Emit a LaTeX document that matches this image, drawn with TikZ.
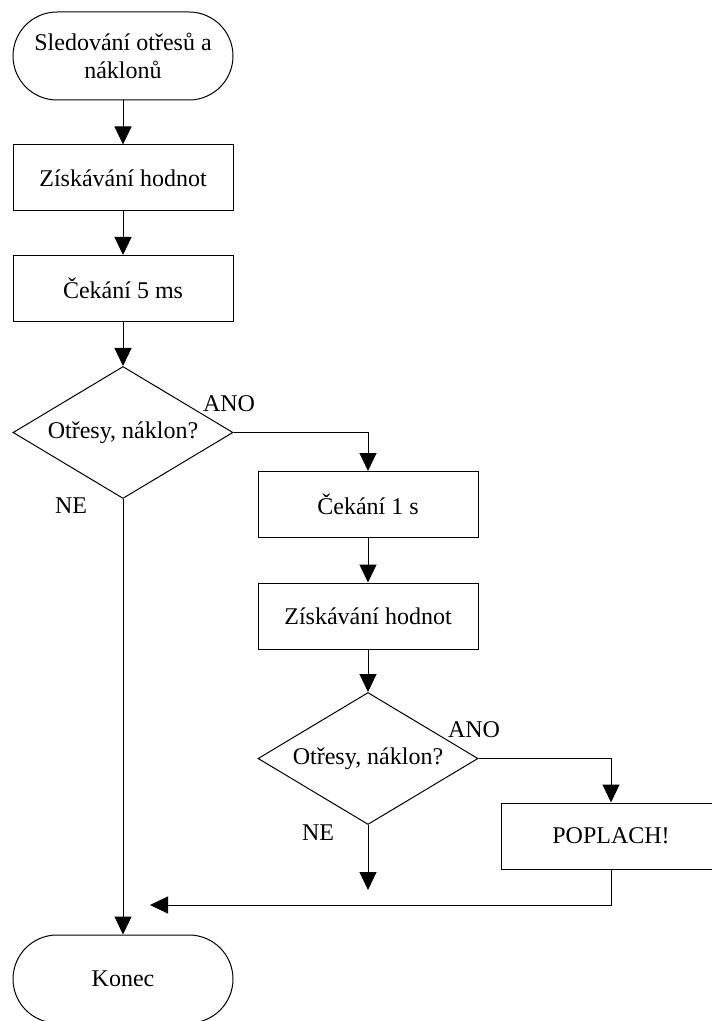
\documentclass[tikz,border=0pt]{standalone}
\usepackage{fontspec}
\setmainfont{Liberation Serif}
\usetikzlibrary{shapes.geometric,arrows.meta}
\begin{document}
\begin{tikzpicture}[x=0.5pt,y=-0.5pt,
  every node/.style={font=\fontsize{12}{14}\selectfont},
  line/.style={line width=0.5pt},
  flow/.style={line, -{Triangle[length=9pt,width=8.5pt]}},
  terminal/.style={draw, line width=0.5pt, rectangle, rounded corners=22pt,
    minimum width=110pt, minimum height=44pt, align=center, inner sep=0pt},
  process/.style={draw, line width=0.5pt, rectangle,
    minimum width=110pt, minimum height=33pt, inner sep=0pt},
  decision/.style={draw, line width=0.5pt, diamond, aspect=1.667,
    minimum width=110pt, minimum height=66pt, inner sep=0pt},
  answer/.style={inner sep=0pt}]
\useasboundingbox (0,0) rectangle (711,1021);

% main column
\node[terminal] (start) at (123,56) {Sledování otřesů a\\náklonů};
\node[process]  (read1) at (123,178) {Získávání hodnot};
\node[process]  (wait5) at (123,288.5) {Čekání 5 ms};
\node[decision] (test1) at (123,432.5) {Otřesy, náklon?};
\node[terminal] (stop)  at (123,979) {Konec};

% confirmation branch
\node[process]  (wait1) at (368,504.5) {Čekání 1 s};
\node[process]  (read2) at (368,616) {Získávání hodnot};
\node[decision] (test2) at (368,758.5) {Otřesy, náklon?};
\node[process]  (alarm) at (611,836) {POPLACH!};

% branch labels
\node[answer] (yes1) at (229,404) {ANO};
\node[answer] (no1)  at (71,506) {NE};
\node[answer] (yes2) at (474,730) {ANO};
\node[answer] (no2)  at (318,833) {NE};

% free ends
\coordinate (no2end) at (368,890);
\coordinate (back)   at (150,905);

\draw[flow] (start) -- (read1);
\draw[flow] (read1) -- (wait5);
\draw[flow] (wait5) -- (test1);
\draw[flow] (test1.east) -| (wait1.north);
\draw[flow] (wait1) -- (read2);
\draw[flow] (read2) -- (test2);
\draw[flow] (test2.east) -| (alarm.north);
\draw[flow] (test1.south) -- (stop.north);
\draw[flow] (test2.south) -- (no2end);
\draw[flow] (alarm.south) |- (back);
\end{tikzpicture}
\end{document}
